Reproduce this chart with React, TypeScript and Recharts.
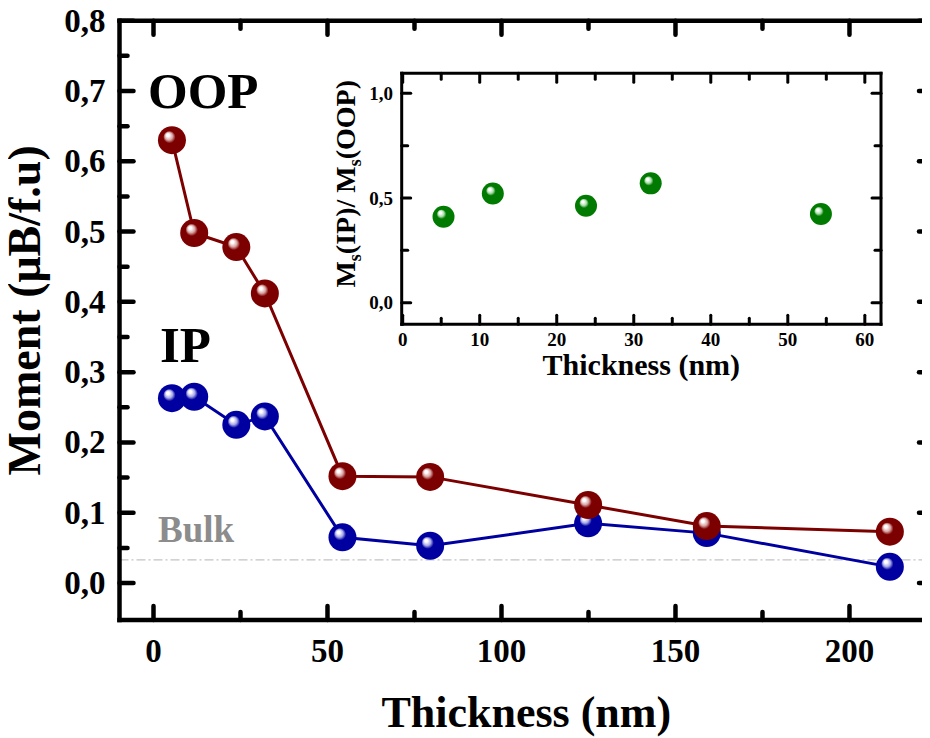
import React from 'react';
import {
  ComposedChart, ScatterChart, Line, Scatter, XAxis, YAxis, ReferenceLine, Label,
} from 'recharts';

// ---------- data ----------
const thickness = [5.3, 11.7, 23.8, 32.0, 54.3, 79.5, 124.9, 159.0, 211.6];
const oopMoment = [0.630, 0.498, 0.478, 0.412, 0.152, 0.151, 0.111, 0.081, 0.073];
const ipMoment = [0.263, 0.265, 0.225, 0.237, 0.065, 0.053, 0.085, 0.071, 0.023];
const BULK = 0.033;

const insetThickness = [5.3, 11.7, 23.8, 32.2, 54.3];
const insetRatio = [0.411, 0.522, 0.463, 0.570, 0.424];

const X_MAJOR = [0, 50, 100, 150, 200];
const X_LABELS = ['0', '50', '100', '150', '200'];
const X_ALL = [0, 25, 50, 75, 100, 125, 150, 175, 200];
const Y_MAJOR = [0, 0.1, 0.2, 0.3, 0.4, 0.5, 0.6, 0.7, 0.8];
const Y_LABELS = ['0,0', '0,1', '0,2', '0,3', '0,4', '0,5', '0,6', '0,7', '0,8'];
const Y_ALL = [0, 0.05, 0.1, 0.15, 0.2, 0.25, 0.3, 0.35, 0.4, 0.45, 0.5, 0.55, 0.6, 0.65, 0.7, 0.75, 0.8];

const IX_MAJOR = [0, 10, 20, 30, 40, 50, 60];
const IX_LABELS = ['0', '10', '20', '30', '40', '50', '60'];
const IX_ALL = [0, 5, 10, 15, 20, 25, 30, 35, 40, 45, 50, 55, 60];
const IY_MAJOR = [0, 0.5, 1.0];
const IY_LABELS = ['0,0', '0,5', '1,0'];
const IY_ALL = [0, 0.25, 0.5, 0.75, 1.0];

const mainRows = thickness.map((t, i) => ({ t, oop: oopMoment[i], ip: ipMoment[i] }));
const insetRows = insetThickness.map((t, i) => ({ t, r: insetRatio[i] }));

const FONT = '"Liberation Serif","Times New Roman",serif';

type Side = 'bottom' | 'top' | 'left' | 'right';
interface TickCfg { major: number; minor: number; sw: number; fs: number; off: number; dy: number; }

function makeTick(side: Side, majors: number[], labels: string[] | null, cfg: TickCfg) {
  return (props: any) => {
    const x = Number(props.x);
    const y = Number(props.y);
    const v = props.payload.value;
    const idx = majors.findIndex((m) => Math.abs(m - v) < 1e-6);
    const len = idx >= 0 ? cfg.major : cfg.minor;
    let x2 = x;
    let y2 = y;
    if (side === 'bottom') y2 = y - len;
    if (side === 'top') y2 = y + len;
    if (side === 'left') x2 = x + len;
    if (side === 'right') x2 = x - len;
    let text: React.ReactNode = null;
    if (labels && idx >= 0) {
      if (side === 'bottom') {
        text = (
          <text x={x} y={y + cfg.off} textAnchor="middle" fontFamily={FONT} fontWeight="bold" fontSize={cfg.fs} fill="#000">
            {labels[idx]}
          </text>
        );
      } else if (side === 'left') {
        text = (
          <text x={x - cfg.off} y={y + cfg.dy} textAnchor="end" fontFamily={FONT} fontWeight="bold" fontSize={cfg.fs} fill="#000">
            {labels[idx]}
          </text>
        );
      }
    }
    return (
      <g>
        <line x1={x} y1={y} x2={x2} y2={y2} stroke="#000000" strokeWidth={cfg.sw} strokeLinecap="round" />
        {text}
      </g>
    );
  };
}

const MAIN_TICK_X: TickCfg = { major: 14, minor: 8, sw: 4.5, fs: 33, off: 42, dy: 11 };
const MAIN_TICK_Y: TickCfg = { major: 14, minor: 8, sw: 4.5, fs: 33, off: 14, dy: 11 };
const INSET_TICK_X: TickCfg = { major: 9, minor: 6, sw: 3, fs: 19, off: 22, dy: 6.5 };
const INSET_TICK_Y: TickCfg = { major: 9, minor: 6, sw: 3, fs: 19, off: 8.7, dy: 6.5 };

const makeDot = (gid: string, r: number) => (props: any) => {
  const { cx, cy, index } = props;
  if (cx == null || cy == null) return <g key={`${gid}-${index}`} />;
  return <circle key={`${gid}-${index}`} cx={cx} cy={cy} r={r} fill={`url(#${gid})`} />;
};

const axisLineStyle = (w: number) => ({ stroke: '#000', strokeWidth: w, strokeLinecap: 'square' as const });

const MAIN_X_DOMAIN = [-9.77, 224.0];
const MAIN_Y_DOMAIN = [-0.0526, 0.8];
const INSET_X_DOMAIN = [-0.13, 62.1];
const INSET_Y_DOMAIN = [-0.103, 1.0955];

const mainBottomTick = makeTick('bottom', X_MAJOR, X_LABELS, MAIN_TICK_X);
const mainTopTick = makeTick('top', X_MAJOR, null, MAIN_TICK_X);
const mainLeftTick = makeTick('left', Y_MAJOR, Y_LABELS, MAIN_TICK_Y);
const mainRightTick = makeTick('right', Y_MAJOR, null, MAIN_TICK_Y);
const insetBottomTick = makeTick('bottom', IX_MAJOR, IX_LABELS, INSET_TICK_X);
const insetTopTick = makeTick('top', IX_MAJOR, null, INSET_TICK_X);
const insetLeftTick = makeTick('left', IY_MAJOR, IY_LABELS, INSET_TICK_Y);
const insetRightTick = makeTick('right', IY_MAJOR, null, INSET_TICK_Y);

export default function App() {
  return (
    <div style={{ position: 'relative', width: 922, height: 730 }}>
      <ComposedChart
        width={922}
        height={730}
        data={mainRows}
        margin={{ top: 11.7, right: -4, left: 0, bottom: 0 }}
      >
        <defs>
          <radialGradient id="gRed" cx="0.5" cy="0.5" r="0.5" fx="0.34" fy="0.3">
            <stop offset="0" stopColor="#ffffff" />
            <stop offset="0.1" stopColor="#ffffff" />
            <stop offset="0.28" stopColor="#d9a3a3" />
            <stop offset="0.44" stopColor="#7d0000" />
            <stop offset="1" stopColor="#7d0000" />
          </radialGradient>
          <radialGradient id="gBlue" cx="0.5" cy="0.5" r="0.5" fx="0.34" fy="0.3">
            <stop offset="0" stopColor="#ffffff" />
            <stop offset="0.1" stopColor="#ffffff" />
            <stop offset="0.28" stopColor="#a8a8e8" />
            <stop offset="0.44" stopColor="#0000a0" />
            <stop offset="1" stopColor="#0000a0" />
          </radialGradient>
        </defs>
        <XAxis
          dataKey="t"
          type="number"
          domain={MAIN_X_DOMAIN}
          ticks={X_ALL}
          interval={0}
          allowDataOverflow
          height={118}
          tickSize={0}
          tickMargin={0}
          tickLine={false}
          axisLine={axisLineStyle(4.5)}
          tick={mainBottomTick}
        >
          <Label
            content={(p: any) => {
              const vb = p.viewBox;
              return (
                <text x={vb.x + vb.width / 2} y={vb.y + 107} textAnchor="middle" fontFamily={FONT} fontWeight="bold" fontSize={44} fill="#000">
                  Thickness (nm)
                </text>
              );
            }}
          />
        </XAxis>
        <XAxis
          xAxisId="top"
          orientation="top"
          dataKey="t"
          type="number"
          domain={MAIN_X_DOMAIN}
          ticks={X_ALL}
          interval={0}
          allowDataOverflow
          height={1}
          tickSize={0}
          tickMargin={0}
          tickLine={false}
          axisLine={axisLineStyle(4.5)}
          tick={mainTopTick}
        />
        <YAxis
          type="number"
          domain={MAIN_Y_DOMAIN}
          ticks={Y_ALL}
          interval={0}
          allowDataOverflow
          width={111.5}
          tickSize={0}
          tickMargin={0}
          tickLine={false}
          axisLine={axisLineStyle(4.5)}
          tick={mainLeftTick}
        >
          <Label
            content={(p: any) => {
              const vb = p.viewBox;
              const x = vb.x + 32;
              const y = vb.y + vb.height / 2 - 10;
              return (
                <text x={x} y={y} transform={`rotate(-90, ${x}, ${y})`} textAnchor="middle" fontFamily={FONT} fontWeight="bold" fontSize={46} fill="#000">
                  Moment (μB/f.u)
                </text>
              );
            }}
          />
        </YAxis>
        <YAxis
          yAxisId="r"
          orientation="right"
          type="number"
          domain={MAIN_Y_DOMAIN}
          ticks={Y_ALL}
          interval={0}
          allowDataOverflow
          width={1}
          tickSize={0}
          tickMargin={0}
          tickLine={false}
          axisLine={axisLineStyle(4.5)}
          tick={mainRightTick}
        />
        <ReferenceLine y={BULK} stroke="#c4c4c4" strokeWidth={1.3} strokeDasharray="9 3 2 3" />
        <Line
          dataKey="ip"
          stroke="#0000a0"
          strokeWidth={3}
          dot={makeDot('gBlue', 14)}
          activeDot={false}
          isAnimationActive={false}
        />
        <Line
          dataKey="oop"
          stroke="#7d0000"
          strokeWidth={3}
          dot={makeDot('gRed', 14)}
          activeDot={false}
          isAnimationActive={false}
        />
      </ComposedChart>

      <svg width={922} height={730} style={{ position: 'absolute', left: 0, top: 0, pointerEvents: 'none' }}>
        <text x={140} y={100} fontFamily={FONT} fontWeight="bold" fontSize={51} fill="#000">OOP</text>
        <text x={152} y={354} fontFamily={FONT} fontWeight="bold" fontSize={51} fill="#000">IP</text>
        <text x={150} y={534} fontFamily={FONT} fontWeight="bold" fontSize={37} fill="#8c8c8c">Bulk</text>
      </svg>

      <div style={{ position: 'absolute', left: 322, top: 52 }}>
        <ScatterChart width={560} height={325} margin={{ top: 12.3, right: 8, left: 0, bottom: 0 }}>
          <defs>
            <radialGradient id="gGreen" cx="0.5" cy="0.5" r="0.5" fx="0.34" fy="0.3">
              <stop offset="0" stopColor="#ffffff" />
              <stop offset="0.1" stopColor="#ffffff" />
              <stop offset="0.28" stopColor="#a8dca8" />
              <stop offset="0.44" stopColor="#007a00" />
              <stop offset="1" stopColor="#007a00" />
            </radialGradient>
          </defs>
          <XAxis
            dataKey="t"
            type="number"
            domain={INSET_X_DOMAIN}
            ticks={IX_ALL}
            interval={0}
            allowDataOverflow
            height={60.7}
            tickSize={0}
            tickMargin={0}
            tickLine={false}
            axisLine={axisLineStyle(3)}
            tick={insetBottomTick}
          >
            <Label
              content={(p: any) => {
                const vb = p.viewBox;
                return (
                  <text x={vb.x + vb.width / 2} y={vb.y + 50.7} textAnchor="middle" fontFamily={FONT} fontWeight="bold" fontSize={30} fill="#000">
                    Thickness (nm)
                  </text>
                );
              }}
            />
          </XAxis>
          <XAxis
            xAxisId="top"
            orientation="top"
            dataKey="t"
            type="number"
            domain={INSET_X_DOMAIN}
            ticks={IX_ALL}
            interval={0}
            allowDataOverflow
            height={1}
            tickSize={0}
            tickMargin={0}
            tickLine={false}
            axisLine={axisLineStyle(3)}
            tick={insetTopTick}
          />
          <YAxis
            dataKey="r"
            type="number"
            domain={INSET_Y_DOMAIN}
            ticks={IY_ALL}
            interval={0}
            allowDataOverflow
            width={71.7}
            tickSize={0}
            tickMargin={0}
            tickLine={false}
            axisLine={axisLineStyle(3)}
            tick={insetLeftTick}
          >
            <Label
              content={(p: any) => {
                const vb = p.viewBox;
                const x = vb.x + 25;
                const y = vb.y + vb.height / 2 - 15;
                return (
                  <text x={x} y={y} transform={`rotate(-90, ${x}, ${y})`} textAnchor="middle" fontFamily={FONT} fontWeight="bold" fontSize={28} fill="#000">
                    <tspan>M</tspan>
                    <tspan fontSize={18} dy={6}>s</tspan>
                    <tspan dy={-6}>(IP)/ M</tspan>
                    <tspan fontSize={18} dy={6}>s</tspan>
                    <tspan dy={-6}>(OOP)</tspan>
                  </text>
                );
              }}
            />
          </YAxis>
          <YAxis
            yAxisId="r"
            orientation="right"
            type="number"
            domain={INSET_Y_DOMAIN}
            ticks={IY_ALL}
            interval={0}
            allowDataOverflow
            width={1}
            tickSize={0}
            tickMargin={0}
            tickLine={false}
            axisLine={axisLineStyle(3)}
            tick={insetRightTick}
          />
          <Scatter
            data={insetRows}
            fill="#007a00"
            isAnimationActive={false}
            shape={(props: any) => (
              <circle cx={props.cx} cy={props.cy} r={11} fill="url(#gGreen)" />
            )}
          />
        </ScatterChart>
      </div>
    </div>
  );
}
